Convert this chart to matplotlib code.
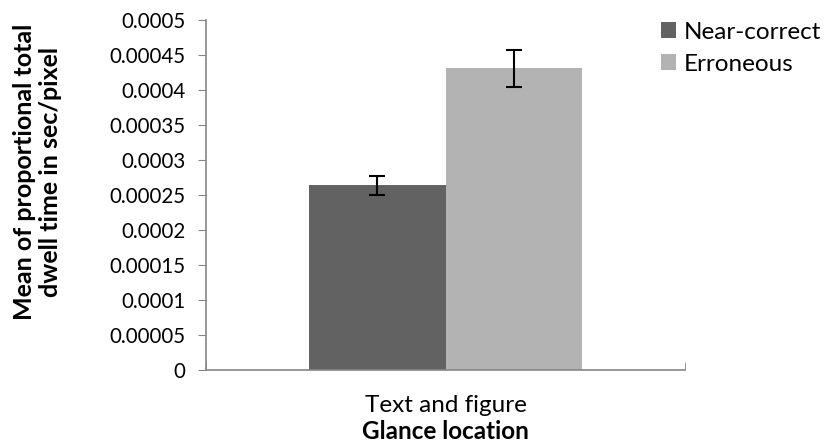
import matplotlib
matplotlib.use("Agg")
import matplotlib.pyplot as plt

plt.rcParams["font.family"] = ["Lato", "DejaVu Sans"]

categories = ["Text and figure"]
series = ["Near-correct", "Erroneous"]
means = [0.000264, 0.000431]
errs = [0.0000135, 0.0000265]
colors = ["#626262", "#b3b3b3"]

fig = plt.figure(figsize=(8.24, 4.46), dpi=100)
ax = fig.add_axes([206 / 824, 1 - 370 / 446, (685 - 206) / 824, 350 / 446])

width = 0.286
for i, (name, m, e, c) in enumerate(zip(series, means, errs, colors)):
    ax.bar(0 + (i - 0.5) * width, m, width, color=c, label=name,
           yerr=e, capsize=6, error_kw=dict(elinewidth=1.5, capthick=1.5, ecolor="black"))

ax.set_xlim(-0.5, 0.5)
ax.set_ylim(0, 0.0005)
yt = [i * 0.00005 for i in range(11)]
ax.set_yticks(yt)
ax.set_yticklabels(["0" if v == 0 else f"{v:.5f}".rstrip("0") for v in yt], fontsize=14.8)
ax.set_xticks([0])
ax.set_xticklabels(categories, fontsize=17.5)
ax.set_xticks([-0.5, 0.5], minor=True)
ax.tick_params(axis="x", which="major", length=0, pad=18)
ax.tick_params(axis="x", which="minor", length=6, color="#868686", direction="in")
ax.tick_params(axis="y", length=6, color="#868686", pad=9)

for s in ["top", "right"]:
    ax.spines[s].set_visible(False)
for s in ["left", "bottom"]:
    ax.spines[s].set_color("#868686")
    ax.spines[s].set_linewidth(1.2)

ax.set_xlabel("Glance location", fontsize=17.5, fontweight="bold", labelpad=3)
ax.set_ylabel("Mean of proportional total\ndwell time in sec/pixel", fontsize=18,
              fontweight="bold", linespacing=1.2)
ax.yaxis.set_label_coords(-0.30, 0.566)

ax.legend(loc="upper left", bbox_to_anchor=(0.95, 0.995), frameon=False, fontsize=17.5,
          borderpad=0, borderaxespad=0,
          handlelength=0.62, handleheight=0.62, handletextpad=0.3, labelspacing=0.45)

fig.savefig("out.png", dpi=100)
